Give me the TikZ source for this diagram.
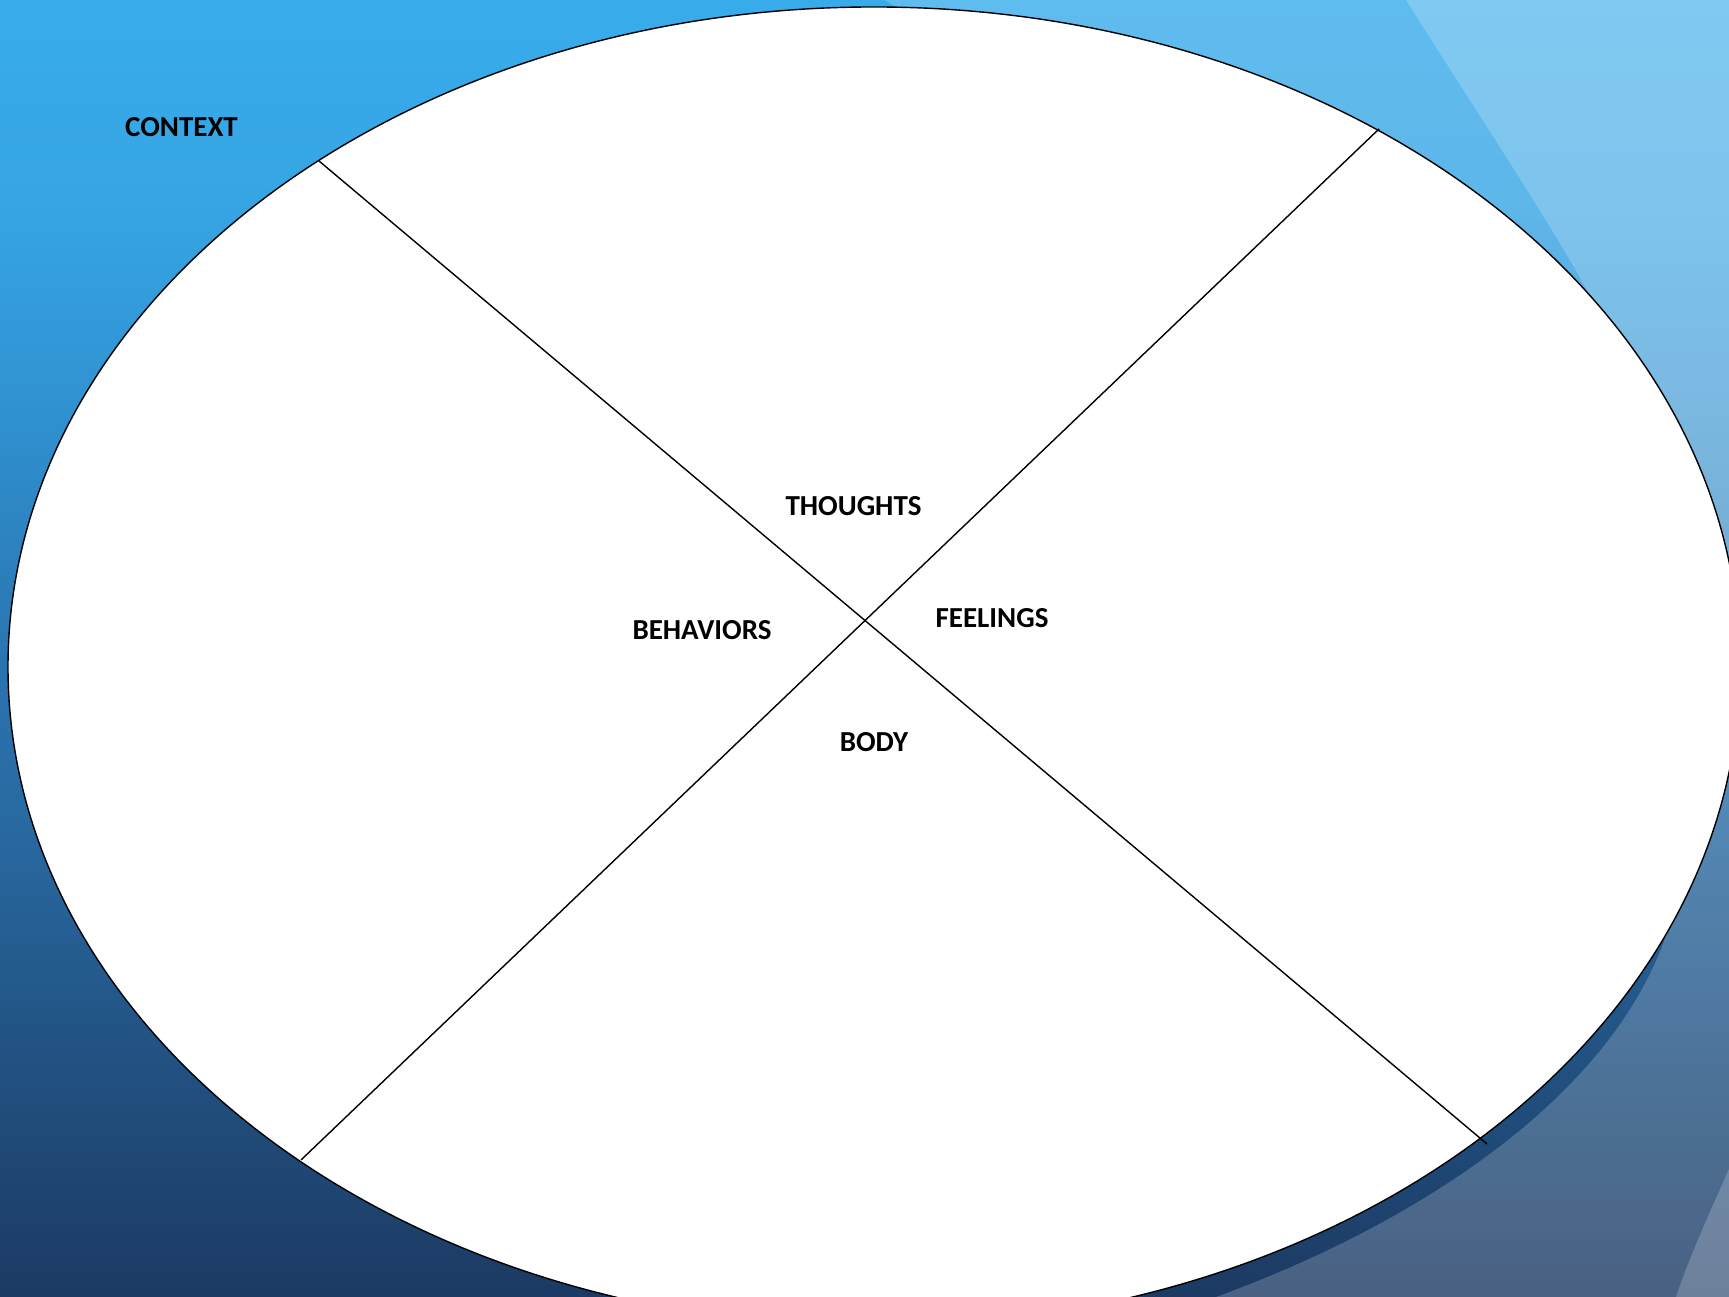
\documentclass[tikz,border=0pt]{standalone}
\usepackage{fontspec}
\setmainfont{Carlito}
\usepackage{xcolor}
\usepackage{tikz}
\usetikzlibrary{positioning}
\definecolor{sky0}{RGB}{56,172,235}
\definecolor{sky1}{RGB}{54,165,228}
\definecolor{sky2}{RGB}{48,145,208}
\definecolor{sky3}{RGB}{42,118,178}
\definecolor{sky4}{RGB}{40,105,160}
\definecolor{sky5}{RGB}{33,80,128}
\definecolor{sky6}{RGB}{28,58,99}
\pgfdeclareverticalshading{slidebg}{100bp}{color(0bp)=(sky6); color(25bp)=(sky6);
  color(33.56bp)=(sky5); color(43.12bp)=(sky4); color(49.94bp)=(sky3);
  color(59.04bp)=(sky2); color(67.29bp)=(sky1); color(75bp)=(sky0); color(100bp)=(sky0)}
\tikzset{
  veil/.style  ={fill=white, fill opacity=0.2},
  oval/.style  ={fill=white, draw=black, line width=0.4pt},
  split/.style ={draw=black, line width=0.4pt},
  lbl/.style   ={font=\bfseries\fontsize{8.25}{10}\selectfont, text=black, inner sep=0pt},
}

\begin{document}
\begin{tikzpicture}
\useasboundingbox (0,0) rectangle (17.29,12.97);
\clip (0,0) rectangle (17.29,12.97);
% background and the light bands
\fill[shading=slidebg] (0,0) rectangle (17.29,12.97);
\fill[veil] (8.85,12.97) .. controls (13.50,9.97) and (17.50,5.97) .. (16.63,3.53)
  .. controls (16.00,1.87) and (14.00,0.67) .. (12.16,0) -- (17.5,0) -- (17.5,12.97) -- cycle;
\fill[veil] (14.06,12.97) .. controls (14.80,11.80) and (15.40,10.90) .. (15.83,10.14)
  .. controls (16.50,8.90) and (17.10,7.60) .. (17.40,6.50) -- (17.5,6.5) -- (17.5,12.97) -- cycle;
\fill[veil] (17.29,1.28) .. controls (17.10,0.85) and (16.90,0.42) .. (16.76,0) -- (17.5,0) -- (17.5,1.28) -- cycle;
% the oval
\path[oval] (8.74,6.30) ellipse [x radius=8.66, y radius=6.60];
\coordinate (tl) at (3.19,11.36);
\coordinate (br) at (14.87,1.53);
\coordinate (tr) at (13.79,11.68);
\coordinate (bl) at (3.01,1.37);
\draw[split] (tl) -- (br);
\draw[split] (tr) -- (bl);
\node[lbl] (ctx) at (1.815,11.695) {CONTEXT};
\node[lbl] (tho) at (8.535,7.91)   {THOUGHTS};
\node[lbl] (beh) at (7.02,6.67)    {BEHAVIORS};
\node[lbl] (fee) at (9.92,6.79)    {FEELINGS};
\node[lbl] (bod) at (8.74,5.55)    {BODY};
\end{tikzpicture}
\end{document}
